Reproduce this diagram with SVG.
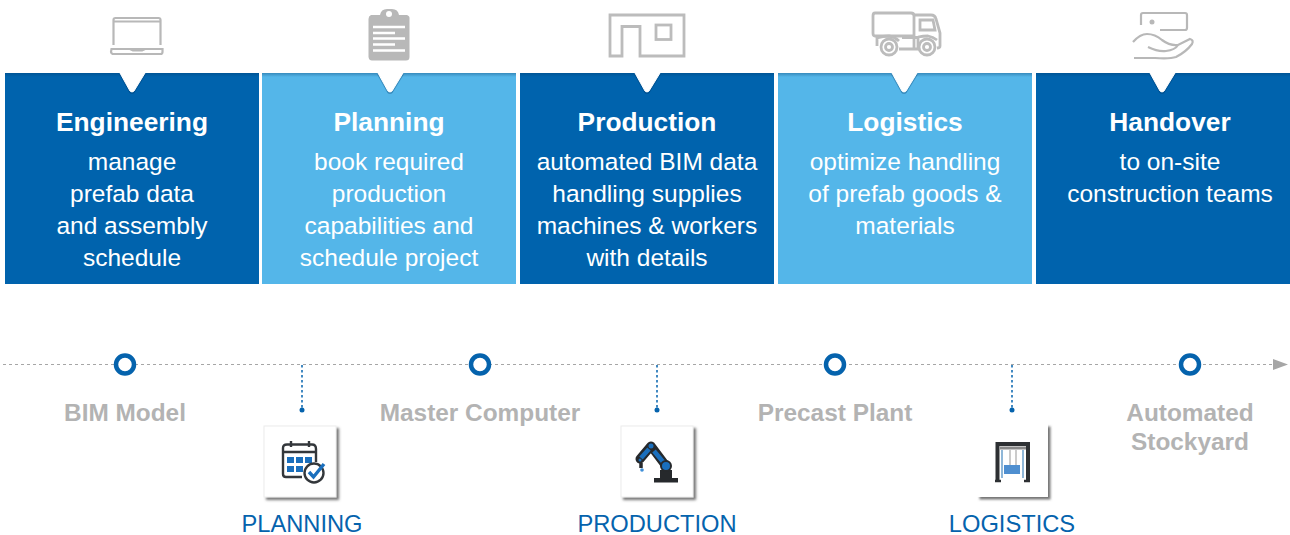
<svg xmlns="http://www.w3.org/2000/svg" width="1290" height="535" viewBox="0 0 1290 535">
<style>
text{font-family:"Liberation Sans",Arial,sans-serif;text-anchor:middle}
.t{font-size:26.3px;font-weight:700;fill:#fff}
.b{font-size:24.5px;fill:#fff}
.m{font-size:24.4px;font-weight:700;fill:#b3b3b3}
.l{font-size:23.7px;fill:#0563ad}
.dark{fill:#0063ad}.light{fill:#54b6e9}
.ic{fill:none;stroke:#b8b8b8;stroke-width:2.2}
.ic2{fill:none;stroke:#bcbcbc;stroke-width:2.8}
.axis{fill:none;stroke:#a6a6a6;stroke-width:1.2;stroke-dasharray:3 3}
.drop{fill:none;stroke:#0563ad;stroke-width:1.5;stroke-dasharray:2.5 2.5}
.ring{fill:#fff;stroke:#0563ad;stroke-width:4.5}
.dot{fill:#0563ad}
.card{fill:#fff;stroke:#ececec;stroke-width:1;filter:url(#cs)}
.card2{fill:#fff;filter:url(#cs)}
.notch{fill:#fff;stroke:#fff;stroke-width:1;stroke-linejoin:round}
.ns{fill:none;stroke:#00335f;stroke-opacity:.3;stroke-width:2}
.ink{fill:none;stroke:#33373b;stroke-width:2.4}
</style>
<defs>
<filter id="cs" x="-10%" y="-10%" width="125%" height="125%"><feDropShadow dx="2.500" dy="2.500" stdDeviation="1" flood-color="#555" flood-opacity="0.8"/></filter>
<linearGradient id="top" x1="0" y1="0" x2="0" y2="1"><stop offset="0" stop-color="#003a6a" stop-opacity="0.35"/><stop offset="1" stop-color="#003a6a" stop-opacity="0"/></linearGradient>
<marker id="arrow" markerWidth="16" markerHeight="12" refX="1" refY="6" orient="auto" markerUnits="userSpaceOnUse"><path d="M0 0.5L15 6L0 11.5Z" fill="#a6a6a6"/></marker>
</defs>

<g id="engineering">
<rect class="dark" x="5" y="73" width="254" height="211"/><rect x="5" y="73" width="254" height="4" fill="url(#top)"/>
<path class="ns" d="M120 74L130 92Q132 94 134 92L145 74"/>
<path class="notch" d="M120 73H145L134 91Q132 93 130 91Z"/>
<g class="ic"><path d="M113.500 45V20Q113.500 18 115.500 18H158.500Q160.500 18 160.500 20V45"/><path d="M114 21.500H160"/><path d="M111.500 49H162.500V52Q162.500 54 160.500 54H113.500Q111.500 54 111 52ZM130 49L133 50.500H142L145 49"/></g>
<text class="t" x="132" y="131">Engineering</text>
<text class="b" x="132" y="170">manage</text><text class="b" x="132" y="202">prefab data</text><text class="b" x="132" y="234">and assembly</text><text class="b" x="132" y="266">schedule</text>
</g>

<g id="planning">
<rect class="light" x="262" y="73" width="254" height="211"/><rect x="262" y="73" width="254" height="4" fill="url(#top)"/>
<path class="ns" d="M378 74L388 92Q390 94 392 92L403 74"/>
<path class="notch" d="M378 73H403L392 91Q390 93 388 91Z"/>
<path d="M371 15H380Q381 9 387 9H392Q398 9 399 15H407Q410 16 409.500 19V57Q409.500 60.500 406 60.500H372Q369 60.500 368.500 57V19Q368.500 16 371 15Z" fill="#b8b8b8"/>
<circle cx="389" cy="14" r="3" fill="#fff"/>
<g stroke="#fff" stroke-width="2.500"><path d="M373 27H405M373 33H395M373 38.500H405M373 44.500H395M373 50.500H405"/></g>
<text class="t" x="389" y="131">Planning</text>
<text class="b" x="389" y="170">book required</text><text class="b" x="389" y="202">production</text><text class="b" x="389" y="234">capabilities and</text><text class="b" x="389" y="266">schedule project</text>
</g>

<g id="production">
<rect class="dark" x="520" y="73" width="254" height="211"/><rect x="520" y="73" width="254" height="4" fill="url(#top)"/>
<path class="ns" d="M635 74L645 92Q647 94 649 92L660 74"/>
<path class="notch" d="M635 73H660L649 91Q647 93 645 91Z"/>
<g class="ic2"><path d="M610 15H684V56H640V26.500H622V56H610Z"/><rect x="656" y="25" width="15" height="14.500"/></g>
<text class="t" x="647" y="131">Production</text>
<text class="b" x="647" y="170">automated BIM data</text><text class="b" x="647" y="202">handling supplies</text><text class="b" x="647" y="234">machines &amp; workers</text><text class="b" x="647" y="266">with details</text>
</g>

<g id="logistics">
<rect class="light" x="778" y="73" width="254" height="211"/><rect x="778" y="73" width="254" height="4" fill="url(#top)"/>
<path class="ns" d="M892 74L902 92Q904 94 906 92L917 74"/>
<path class="notch" d="M892 73H917L906 91Q904 93 902 91Z"/>
<g class="ic2"><path d="M875 13H911Q914 13 914 16V36H875Q873 36 873 33V16Q873 13 875 13Z"/><path d="M914 15H931Q935 15 936 19L940 33V46Q940 48 937 48"/><path d="M920 20H933L935 30H920Z"/><path d="M914 36V49M902 37.500H918V49H899M918 37Q923 36 928 36Q933 37 937 40"/><path d="M877 36V46M877 38Q883 36 889 36Q895 37 899 41"/><circle cx="889" cy="47" r="8"/><circle cx="889" cy="47" r="3.500"/><circle cx="927" cy="47" r="8"/><circle cx="927" cy="47" r="3.500"/></g>
<text class="t" x="905" y="131">Logistics</text>
<text class="b" x="905" y="170">optimize handling</text><text class="b" x="905" y="202">of prefab goods &amp;</text><text class="b" x="905" y="234">materials</text>
</g>

<g id="handover">
<rect class="dark" x="1036" y="73" width="254" height="211"/><rect x="1036" y="73" width="254" height="4" fill="url(#top)"/>
<path class="ns" d="M1150 74L1160 92Q1162 94 1164 92L1175 74"/>
<path class="notch" d="M1150 73H1175L1164 91Q1162 93 1160 91Z"/>
<g class="ic"><path d="M1141 25V15Q1141 13 1143 13H1185Q1187 13 1187 15V28Q1187 30 1185 30H1160"/><circle cx="1152" cy="22" r="2.500" fill="#b8b8b8" stroke="none"/><path d="M1133 42Q1140 34 1147 34Q1155 34 1162 40Q1170 46 1178 45Q1186 41 1190 39Q1194 40 1192 44Q1186 52 1176 57Q1170 59 1155 58H1134"/><path d="M1148 47Q1158 52 1166 51Q1175 50 1178 45"/></g>
<text class="t" x="1170" y="131">Handover</text>
<text class="b" x="1170" y="170">to on-site</text><text class="b" x="1170" y="202">construction teams</text>
</g>

<g id="connectors">
<path class="axis" d="M3 364.500H1274" marker-end="url(#arrow)"/>
<path class="drop" d="M302 365V408"/><path class="drop" d="M657 365V408"/><path class="drop" d="M1012 365V408"/>
</g>

<g id="bim-model"><circle class="ring" cx="125" cy="364.500" r="9"/><text class="m" x="125" y="421">BIM Model</text></g>
<g id="master-computer"><circle class="ring" cx="480" cy="364.500" r="9"/><text class="m" x="480" y="421">Master Computer</text></g>
<g id="precast-plant"><circle class="ring" cx="835" cy="364.500" r="9"/><text class="m" x="835" y="421">Precast Plant</text></g>
<g id="automated-stockyard"><circle class="ring" cx="1190" cy="364.500" r="9"/><text class="m" x="1190" y="421">Automated</text><text class="m" x="1190" y="450">Stockyard</text></g>

<g id="planning-step">
<circle class="dot" cx="302" cy="410" r="2.500"/>
<rect class="card" x="264" y="426" width="72" height="71"/>
<path class="ink" d="M287 444.500H312Q316 444.500 316 449V462M302 477H286Q283 477 283 474V448Q283 444.500 287 444.500"/><path class="ink" d="M291 441V447M309 441V447M283 452H316"/>
<g fill="#1a6fbd"><rect x="287" y="457" width="7" height="6"/><rect x="296" y="457" width="7" height="6"/><rect x="305" y="457" width="7" height="6"/><rect x="287" y="466" width="7" height="6"/><rect x="296" y="466" width="7" height="6"/></g>
<circle cx="314" cy="473" r="9.500" fill="#fff" stroke="#33373b" stroke-width="2.400"/>
<path d="M309 472L313.500 477L324 464" fill="none" stroke="#1a6fbd" stroke-width="3.400"/>
<text class="l" x="302" y="532">PLANNING</text>
</g>

<g id="production-step">
<circle class="dot" cx="657" cy="410" r="2.500"/>
<rect class="card" x="621" y="426" width="72" height="71"/>
<path d="M654 478H678V482.500H654ZM660 470H672V478H660Z" fill="#26292c"/>
<path d="M640 459L651 446L666 466" fill="none" stroke="#26292c" stroke-width="9" stroke-linejoin="round" stroke-linecap="round"/>
<path d="M641 458L649 449M654 451L664 463" fill="none" stroke="#1a6fbd" stroke-width="4.500"/>
<circle cx="666" cy="466" r="5" fill="#1a6fbd" stroke="#26292c" stroke-width="2"/>
<circle cx="651" cy="446" r="2.500" fill="#1a6fbd"/><circle cx="640" cy="460" r="1.500" fill="#1a6fbd"/>
<path d="M641 463V468" stroke="#26292c" stroke-width="3.500"/><circle cx="642" cy="470" r="1.800" fill="#3f8fd8"/>
<text class="l" x="657" y="532">PRODUCTION</text>
</g>

<g id="logistics-step">
<circle class="dot" cx="1012" cy="410" r="2.500"/>
<rect class="card2" x="977" y="424" width="71" height="73"/>
<path d="M997.500 482V444H1028V482" fill="none" stroke="#2d3033" stroke-width="4"/>
<path d="M1000 448H1026" stroke="#888" stroke-width="3"/>
<path d="M1010 450V465M1016 450V465" stroke="#bbb" stroke-width="1.500"/>
<path d="M1002 450V478M1023 450V478" stroke="#8fb7d8" stroke-width="2"/>
<path d="M995 481H1001M1024 481H1030" stroke="#2d3033" stroke-width="2.500"/>
<rect x="1004" y="465" width="16" height="9" fill="#4f8fd0"/>
<text class="l" x="1012" y="532">LOGISTICS</text>
</g>
</svg>
